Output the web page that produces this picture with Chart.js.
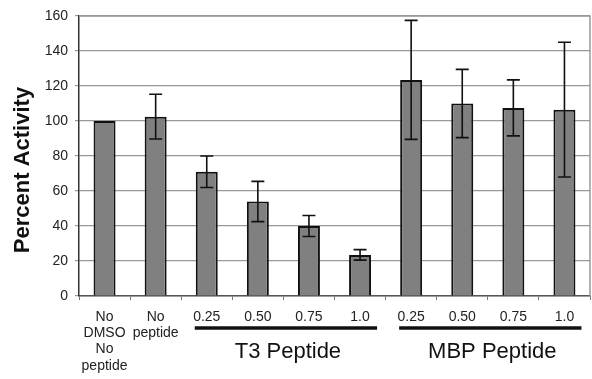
<!DOCTYPE html>
<html>
<head>
<meta charset="utf-8">
<script src="https://cdn.jsdelivr.net/npm/chart.js@4"></script>
<style>
  body { margin: 0; background: #fff; }
  #wrap { width: 592px; height: 379px; }
</style>
</head>
<body>
<div id="wrap"><canvas id="chart" width="592" height="379"></canvas></div>
<script>
// categories on the x axis (multi-line labels as arrays)
const categories = [["No", "DMSO", "No", "peptide"], ["No", "peptide"], "0.25", "0.50", "0.75", "1.0", "0.25", "0.50", "0.75", "1.0"];
// percent activity (bar heights) and their error (+/-)
const values = [100, 102.5, 71, 54, 40, 23.5, 123.5, 110, 107.5, 106.5];
const errors = [0, 12.8, 9, 11.5, 6, 3, 34, 19.5, 16, 38.5];
// y tick range
const yMin = 0, yMax = 160, yStep = 20;
// group underlines below the concentration labels
const groupLabels = ["T3 Peptide", "MBP Peptide"];
const groupStart = [2, 6];
const groupEnd = [5, 9];

const FONT = '"Liberation Sans", Arial, Helvetica, sans-serif';

// error bars drawn on top of the bars
const errorBars = {
    id: 'errorBars',
    afterDatasetsDraw(chart) {
        const ctx = chart.ctx;
        const y = chart.scales.y;
        const meta = chart.getDatasetMeta(0);
        ctx.save();
        ctx.strokeStyle = '#111';
        ctx.lineWidth = 1.6;
        meta.data.forEach((bar, i) => {
            if (!errors[i]) return;
            const top = y.getPixelForValue(values[i] + errors[i]);
            const bot = y.getPixelForValue(values[i] - errors[i]);
            ctx.beginPath();
            ctx.moveTo(bar.x, top); ctx.lineTo(bar.x, bot);
            ctx.moveTo(bar.x - 6.5, top); ctx.lineTo(bar.x + 6.5, top);
            ctx.moveTo(bar.x - 6.5, bot); ctx.lineTo(bar.x + 6.5, bot);
            ctx.stroke();
        });
        ctx.restore();
    }
};

// frame, y axis title, and group labels
const extras = {
    id: 'extras',
    beforeDatasetsDraw(chart) {
        const { ctx, chartArea: a } = chart;
        ctx.save();
        ctx.strokeStyle = '#999';
        ctx.lineWidth = 1.5;
        ctx.beginPath();
        ctx.moveTo(a.left, a.top); ctx.lineTo(a.right, a.top); ctx.lineTo(a.right, a.bottom);
        ctx.stroke();
        ctx.restore();
    },
    afterDraw(chart) {
        const { ctx, chartArea: a } = chart;
        const x = chart.scales.x;
        ctx.save();
        // y title
        ctx.translate(23, 170);
        ctx.rotate(-Math.PI / 2);
        ctx.fillStyle = '#111';
        ctx.font = 'bold 22px ' + FONT;
        ctx.textAlign = 'center';
        ctx.textBaseline = 'middle';
        ctx.fillText('Percent Activity', 0, 0);
        ctx.restore();

        ctx.save();
        groupLabels.forEach((label, g) => {
            const x0 = x.getPixelForValue(groupStart[g]) - 12;
            const x1 = x.getPixelForValue(groupEnd[g]) + 17;
            ctx.strokeStyle = '#111';
            ctx.lineWidth = 3.5;
            ctx.beginPath();
            ctx.moveTo(x0, 328); ctx.lineTo(x1, 328);
            ctx.stroke();
            ctx.fillStyle = '#111';
            ctx.font = '22px ' + FONT;
            ctx.textAlign = 'center';
            ctx.textBaseline = 'alphabetic';
            ctx.fillText(label, (x0 + x1) / 2 + 2, 357.5);
        });
        ctx.restore();
    }
};

new Chart(document.getElementById('chart'), {
    type: 'bar',
    data: {
        labels: categories,
        datasets: [{
            data: values,
            backgroundColor: '#808080',
            borderColor: '#111',
            borderWidth: 2,
            barPercentage: 0.43,
            categoryPercentage: 1
        }]
    },
    options: {
        responsive: false,
        animation: false,
        layout: { padding: { top: 16, right: 2, left: 0, bottom: 0 } },
        plugins: {
            legend: { display: false },
            tooltip: { enabled: false }
        },
        scales: {
            x: {
                afterFit(scale) { scale.height = 83; },
                grid: { offset: true, drawOnChartArea: false, drawTicks: true, tickLength: 4, color: '#777' },
                border: { color: '#555', width: 1.5 },
                ticks: {
                    autoSkip: false, maxRotation: 0, padding: 9, color: '#222',
                    font: { family: FONT, size: 14, lineHeight: 1.16 }
                }
            },
            y: {
                min: yMin, max: yMax,
                afterFit(scale) { scale.width = 79; },
                grid: { color: '#999', lineWidth: 1.2, tickLength: 4 },
                border: { color: '#333', width: 1.5 },
                ticks: {
                    stepSize: yStep, padding: 7, color: '#222',
                    font: { family: FONT, size: 14 }
                }
            }
        }
    },
    plugins: [errorBars, extras]
});
</script>
</body>
</html>
